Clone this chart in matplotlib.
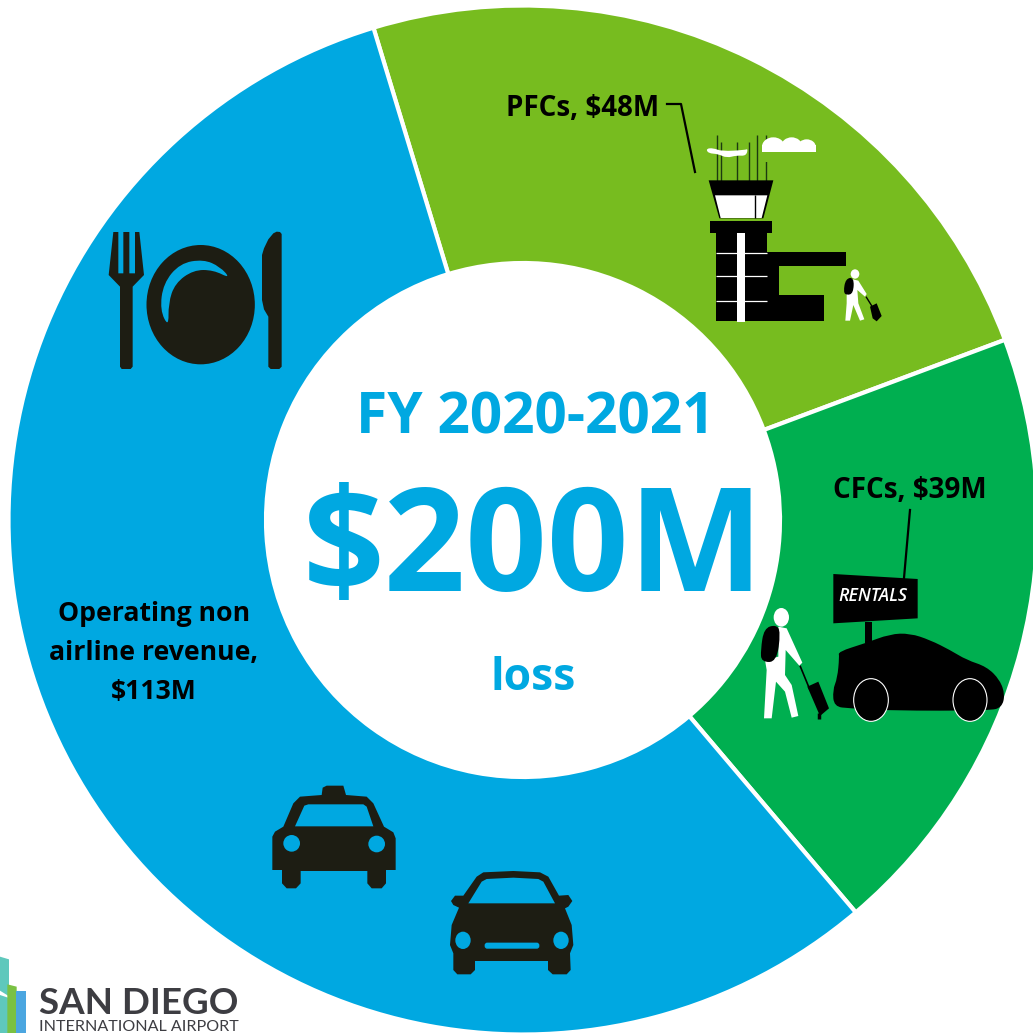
import matplotlib
matplotlib.use("Agg")
import matplotlib.pyplot as plt
from matplotlib.patches import Polygon, Ellipse, FancyBboxPatch, PathPatch
from matplotlib.path import Path

plt.rcParams['font.family'] = ['Open Sans', 'DejaVu Sans']

# data
slice_names = ["PFCs", "CFCs", "Operating non airline revenue"]
slice_values = [48, 39, 113]
slice_colors = ["#77BC1F", "#00AF50", "#00A8E1"]
center_year = "FY 2020-2021"
center_total = "$200M"
center_note = "loss"

W = 1033
CX, CY, R, RI = 523, 520, 514.5, 257
BLUE = "#00A8E1"
DARK = "#1D1D13"

fig = plt.figure(figsize=(W/100, W/100), dpi=100, facecolor="white")
ax = fig.add_axes([0, 0, 1, 1])
ax.pie(slice_values, colors=slice_colors, startangle=106.9, counterclock=False,
       center=(CX, W-CY), radius=R,
       wedgeprops=dict(width=R-RI, edgecolor="white", linewidth=3), frame=True)
ax.set_xlim(0, W); ax.set_ylim(0, W); ax.set_aspect("equal"); ax.axis("off")

ov = fig.add_axes([0, 0, 1, 1], facecolor="none")
ov.set_xlim(0, W); ov.set_ylim(W, 0); ov.axis("off")

def mp(pts, o):
    return [(o[0]+x/3, o[1]+y/3) for x, y in pts]
def poly(pts, o, c, lw=0, z=3):
    ov.add_patch(Polygon(mp(pts, o), closed=True, fc=c, ec=c, lw=lw, joinstyle="round", zorder=z))
def smooth(pts, o, c, z=3):
    p = mp(pts, o)
    n = len(p)
    mid = [((p[i][0]+p[(i+1) % n][0])/2, (p[i][1]+p[(i+1) % n][1])/2) for i in range(n)]
    verts = [mid[-1]]
    codes = [Path.MOVETO]
    for i in range(n):
        verts += [p[i], mid[i]]
        codes += [Path.CURVE3, Path.CURVE3]
    ov.add_patch(PathPatch(Path(verts, codes), fc=c, ec=c, lw=0, zorder=z))
def ell(x, y, w, h, o, c, ec=None, lw=0, z=4):
    ov.add_patch(Ellipse((o[0]+x/3, o[1]+y/3), w/3, h/3, fc=c, ec=ec or c, lw=lw, zorder=z))
def line(pts, o, c="black", lw=1.5, z=3):
    p = mp(pts, o)
    ov.plot([a for a, _ in p], [b for _, b in p], color=c, lw=lw, zorder=z, solid_capstyle="butt", solid_joinstyle="miter")

# tower
o = (680, 90)
for x, t in [(110,135),(124,157),(170,157),(206,157),(232,135),(259,135)]:
    line([(x,t),(x,272)], o, "#1c3a10", 1.0)
poly([(86,271),(280,271),(250,385),(118,385)], o, "black")
poly([(105,316),(262,316),(245,384),(122,384)], o, "white", z=4)
line([(226,316),(226,384)], o, "black", 1.0, z=5)
poly([(91,394),(276,394),(276,429),(91,429)], o, "black")
poly([(107,429),(260,429),(260,487),(499,487),(499,527),(297,527),(297,616),(433,616),(433,692),(107,692)], o, "black")
poly([(172,428),(194,428),(194,697),(172,697)], o, "white", z=5)
for y in (488, 559, 632):
    line([(107,y),(260,y)], o, "white", 0.9, z=4)
smooth([(78,176),(100,174),(125,184),(195,180),(204,176),(198,198),(170,196),(140,204),(115,192),(85,190)], o, "white", z=4)
ell(280,170,68,56,o,"white"); ell(335,168,62,52,o,"white"); ell(380,172,56,48,o,"white")
poly([(246,185),(408,185),(408,165),(246,165)], o, "white", z=4)
ov.add_patch(Polygon(mp([(240,185),(415,185),(415,215),(240,215)], o), closed=True, fc="#77BC1F", ec="none", zorder=4.5))
poly([(240,130),(246,130),(246,186),(240,186)], o, "#77BC1F", z=4.5)
poly([(408,130),(420,130),(420,186),(408,186)], o, "#77BC1F", z=4.5)
ell(525,552,26,28,o,"white")
poly([(515,567),(535,572),(560,612),(555,620),(532,600),(535,640),(553,688),(540,692),(520,645),(510,692),(496,692),(500,640),(500,610)], o, "white", z=4)
smooth([(497,566),(522,562),(520,610),(500,616),(490,606)], o, "black", z=5)
line([(558,620),(578,652)], o, "black", 1.0)
poly([(570,650),(590,640),(605,678),(590,694),(578,685)], o, "black")
ov.plot([667,681,695],[104,104,172], color="black", lw=1.6, zorder=3)

# rental car
o = (750, 500)
poly([(250,222),(503,237),(503,355),(250,370)], o, "black")
poly([(346,365),(365,365),(365,428),(346,428)], o, "black")
smooth([(265,455),(345,430),(420,402),(480,400),(540,420),(600,450),(650,480),(710,500),(750,540),(765,585),(755,622),(720,632),(420,632),(300,625),(252,620),(248,570),(262,535),(268,470)], o, "black")
ell(363,600,104,128,o,"black",ec="white",lw=0.8)
ell(660,600,102,128,o,"black",ec="white",lw=0.8)
ov.text(o[0]+368/3, o[1]+288/3, "RENTALS", color="white", fontsize=12.8, style="italic", fontweight="semibold", ha="center", va="center", zorder=5)
ov.plot([910,904],[510,578], color="black", lw=1.6, zorder=3)
ell(94,352,46,56,o,"white")
poly([(85,380),(110,385),(157,488),(148,497),(107,450),(105,525),(125,555),(145,648),(125,653),(105,575),(78,545),(65,655),(42,655),(50,510),(45,480),(85,470)], o, "white", z=4)
smooth([(42,385),(78,374),(92,395),(80,486),(34,486),(32,450)], o, "black", z=5)
line([(150,497),(180,570)], o, "black", 1.2)
poly([(172,560),(205,545),(237,625),(210,648)], o, "black")
line([(208,640),(208,658)], o, "black", 2.5)

# cutlery
o = (100, 220)
poly([(40,36),(55,36),(55,160),(70,160),(70,36),(88,36),(88,160),(105,160),(105,36),(118,36),(132,165),(98,200),(98,440),(92,447),(65,447),(60,440),(60,200),(26,165)], o, DARK)
ell(302,254,325,358,o,DARK)
smooth([(206,322),(180,270),(190,190),(240,130),(310,118),(360,140),(392,176),(340,150),(280,150),(225,190),(205,250)], o, BLUE, z=5)
poly([(530,35),(540,36),(545,42),(545,440),(538,447),(512,447),(505,440),(505,290),(492,268),(486,240),(486,105),(492,85),(505,58),(520,40)], o, DARK)

# taxi and car
o = (260, 775)
poly([(37,285),(37,185),(45,170),(70,155),(100,85),(120,65),(185,60),(188,38),(200,32),(250,32),(258,60),(320,65),(340,85),(372,155),(400,172),(407,190),(407,285),(378,285),(378,325),(365,340),(335,340),(322,325),(322,288),(122,288),(122,325),(108,340),(80,340),(66,325),(66,285)], o, DARK)
poly([(105,154),(133,92),(145,88),(310,88),(320,95),(340,154)], o, BLUE, z=4)
ell(95,205,50,50,o,BLUE); ell(350,207,50,50,o,BLUE)
poly([(580,535),(570,510),(575,450),(597,398),(580,390),(573,378),(585,362),(610,362),(650,305),(670,292),(760,288),(840,292),(865,305),(897,362),(925,360),(937,378),(925,395),(915,400),(935,450),(940,510),(930,535),(932,585),(920,598),(878,598),(864,585),(864,558),(645,558),(645,585),(632,598),(592,598),(580,585)], o, DARK)
poly([(625,385),(665,320),(680,312),(760,308),(835,312),(850,320),(885,385)], o, BLUE, z=4)
ell(609,496,46,52,o,BLUE); ell(903,496,46,52,o,BLUE)
ov.add_patch(FancyBboxPatch((260+676/3, 775+505/3), 160/3, 14/3, boxstyle="round,pad=0,rounding_size=2", fc=BLUE, ec=BLUE, lw=1, zorder=4))

# labels
def lab(x, y, s, size, c="black"):
    ov.text(x, y, s, fontsize=size, fontweight="bold", color=c, ha="center", va="center", zorder=6)
lab(583, 109, f"{slice_names[0]}, ${slice_values[0]}M", 20)
lab(910, 490, f"{slice_names[1]}, ${slice_values[1]}M", 20)
lab(154, 614, "Operating non", 19.2)
lab(154, 653, "airline revenue,", 19.2)
lab(154, 692, f"${slice_values[2]}M", 19.2)
lab(535, 419, center_year, 40.9, BLUE)
lab(534, 554, center_total, 103, BLUE)
lab(533, 679, center_note, 32, BLUE)

# logo
o = (0, 950)
poly([(0,20),(27,28),(27,249),(0,249)], o, "#5FC8BC")
poly([(0,122),(45,150),(0,135)], o, "white", z=4)
poly([(22,103),(50,110),(50,249),(22,249)], o, "#7AC143", z=4)
poly([(47,122),(78,122),(78,249),(47,249)], o, "#4BA6E0", z=5)
ov.text(138.5, 1004, "SAN DIEGO", fontsize=26.5, color="#3D3D42", fontweight="bold", family="Lato", ha="center", va="center", zorder=6)
ov.text(138.5, 1027, "INTERNATIONAL AIRPORT", fontsize=11.6, color="#3D3D42", family="Lato", ha="center", va="center", zorder=6)

fig.savefig("out.png", dpi=100, facecolor="white")
